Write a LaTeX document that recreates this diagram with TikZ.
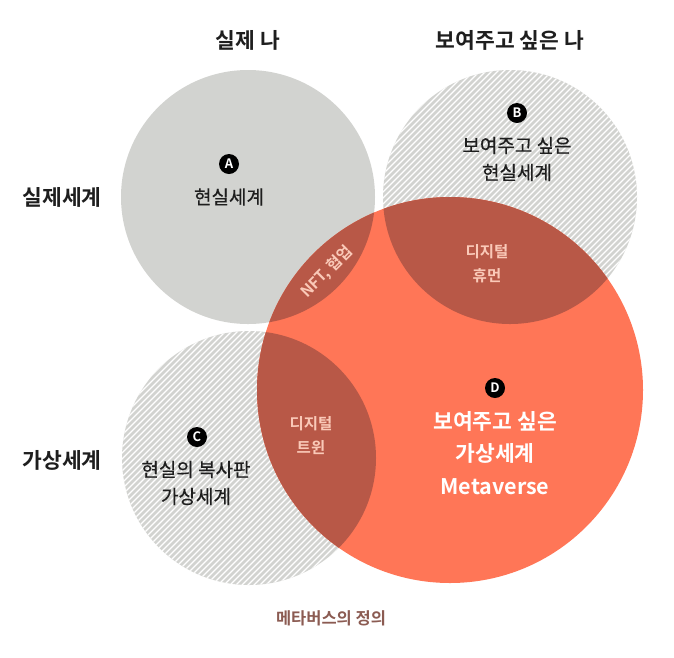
\documentclass[tikz,border=0pt]{standalone}
\usepackage{fontspec}
\setmainfont{Noto Sans CJK KR}[BoldFont={Noto Sans CJK KR Bold}]
\newfontfamily\medfont{Noto Sans CJK KR}[FakeBold=0.5]
\definecolor{cgray}{HTML}{D2D3D0}
\definecolor{corange}{HTML}{FF7657}
\definecolor{cdark}{HTML}{B85847}
\definecolor{cpink}{HTML}{FAC9B8}
\definecolor{cbrown}{HTML}{8B5B52}
\definecolor{ctext}{HTML}{1E1E1E}
\begin{document}
\begin{tikzpicture}[x=1pt,y=-1pt,
  title/.style={font=\bfseries\fontsize{21.5pt}{24pt}\selectfont,text=ctext,inner sep=0pt},
  body/.style={font=\medfont\fontsize{19pt}{27pt}\selectfont,text=ctext,align=center,inner sep=0pt},
  dtext/.style={font=\bfseries\fontsize{21.5pt}{32.5pt}\selectfont,text=white,align=center,inner sep=0pt},
  ptext/.style={font=\bfseries\fontsize{15.5pt}{24pt}\selectfont,text=cpink,align=center,inner sep=0pt},
  badge/.style={circle,fill=black,text=white,inner sep=0pt,minimum size=20pt,font=\bfseries\fontsize{13pt}{13pt}\selectfont},
  hatch/.style={white,line width=1.2pt}]
\useasboundingbox (0,0) rectangle (674,657);
% circles
\coordinate (cA) at (248,197);
\coordinate (cB) at (510,197);
\coordinate (cC) at (249,458);
\coordinate (cD) at (450,390);
\fill[cgray] (cA) circle[radius=127];
\fill[cgray] (cB) circle[radius=127];
\fill[cgray] (cC) circle[radius=127];
\begin{scope}
  \clip (cB) circle[radius=127] (cC) circle[radius=127];
  \foreach \i in {-700,-694,...,700} \draw[hatch] (\i,657) -- (\i+657,0);
\end{scope}
\fill[corange] (cD) circle[radius=193];
\begin{scope}
  \clip (cD) circle[radius=193];
  \fill[cdark] (cA) circle[radius=127];
  \fill[cdark] (cB) circle[radius=127];
  \fill[cdark] (cC) circle[radius=127];
\end{scope}
% titles
\node[title] (t1) at (248,40) {실제 나};
\node[title] (t2) at (510,40) {보여주고 싶은 나};
\node[title] (t3) at (62,197) {실제세계};
\node[title] (t4) at (62,460) {가상세계};
% A
\node[badge] (bA) at (229,164) {A};
\node[body] (lA) at (229,197) {현실세계};
% B
\node[badge] (bB) at (517,113) {B};
\node[body] (lB) at (517,159) {보여주고 싶은\\현실세계};
% C
\node[badge] (bC) at (197,437) {C};
\node[body] (lC) at (196,483) {현실의 복사판\\가상세계};
% D
\node[badge] (bD) at (495,388) {D};
\node[dtext] (lD) at (495,453) {보여주고 싶은\\가상세계\\Metaverse};
% overlaps
\node[ptext] (ov1) at (487,264) {디지털\\휴먼};
\node[ptext] (ov2) at (311,436) {디지털\\트윈};
\node[ptext,rotate=45] (ov3) at (327,272) {NFT, 협업};
% caption
\node[font=\bfseries\fontsize{16.5pt}{18pt}\selectfont,text=cbrown,inner sep=0pt] (cap) at (331,618) {메타버스의 정의};
\end{tikzpicture}
\end{document}
